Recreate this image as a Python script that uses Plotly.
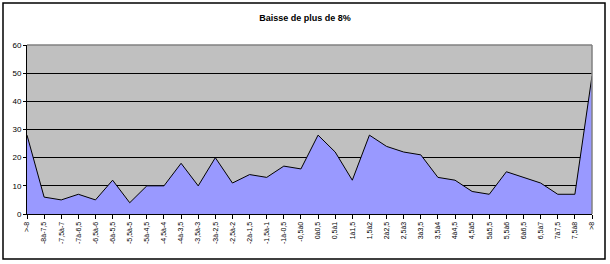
import plotly.graph_objects as go

categories = [">-8", "-8à-7,5", "-7,5à-7", "-7à-6,5", "-6,5à-6", "-6à-5,5", "-5,5à-5",
              "-5à-4,5", "-4,5à-4", "-4à-3,5", "-3,5à-3", "-3à-2,5", "-2,5à-2", "-2à-1,5",
              "-1,5à-1", "-1à-0,5", "-0,5à0", "0à0,5", "0,5à1", "1à1,5", "1,5à2", "2à2,5",
              "2,5à3", "3à3,5", "3,5à4", "4à4,5", "4,5à5", "5à5,5", "5,5à6", "6à6,5",
              "6,5à7", "7à7,5", "7,5à8", ">8"]
values = [28, 6, 5, 7, 5, 12, 4, 10, 10, 18, 10, 20, 11, 14, 13, 17, 16, 28, 22, 12,
          28, 24, 22, 21, 13, 12, 8, 7, 15, 13, 11, 7, 7, 49]
title_text = "Baisse de plus de 8%"

W, H = 610, 264
L, R, T, B = 27, 18, 45, 50
pw, ph = W - L - R, H - T - B

def px_x(p):
    return (p - L) / pw

def px_y(p):
    return (H - B - p) / ph

fig = go.Figure()
fig.add_trace(go.Scatter(
    x=categories, y=values, mode="lines", fill="tozeroy",
    fillcolor="#9999FF", line=dict(color="black", width=1),
    hoverinfo="x+y", showlegend=False))

fig.update_layout(
    width=W, height=H,
    margin=dict(l=L, r=R, t=T, b=B),
    paper_bgcolor="white", plot_bgcolor="#C0C0C0",
    font=dict(family="Liberation Sans, Arial, sans-serif", color="black"),
    title=dict(text="<b>" + title_text + "</b>", x=0.5, xanchor="center",
               y=1 - 18 / H, yanchor="middle", font=dict(size=9)),
    xaxis=dict(type="category", range=[0, len(categories) - 1],
               tickangle=-90, tickfont=dict(size=7), ticks="outside",
               ticklen=4, tickcolor="black", showline=True, linecolor="black",
               linewidth=1, showgrid=False, zeroline=False, fixedrange=True),
    yaxis=dict(range=[0, 60], dtick=10, tickfont=dict(size=8), ticks="outside",
               ticklen=3, tickcolor="black", showline=True, linecolor="black",
               linewidth=1, showgrid=True, gridcolor="black", gridwidth=1,
               zeroline=False, fixedrange=True),
    shapes=[
        dict(type="line", xref="paper", yref="paper", x0=0, x1=1, y0=1, y1=1,
             line=dict(color="#808080", width=1.5), layer="above"),
        dict(type="line", xref="paper", yref="paper", x0=1, x1=1, y0=0, y1=1,
             line=dict(color="#808080", width=1.5), layer="above"),
        dict(type="rect", xref="paper", yref="paper",
             x0=px_x(3), x1=px_x(605), y0=px_y(259), y1=px_y(3),
             line=dict(color="black", width=1.5), fillcolor="rgba(0,0,0,0)",
             layer="above"),
    ],
)

fig.write_html("out.html")
